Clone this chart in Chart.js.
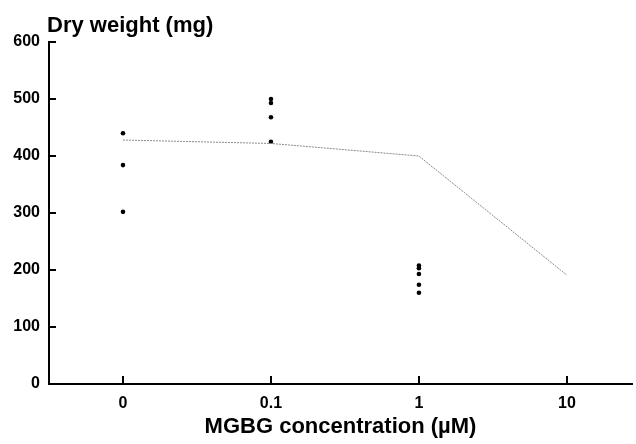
<!DOCTYPE html>
<html>
<head>
<meta charset="utf-8">
<script src="https://cdn.jsdelivr.net/npm/chart.js@4"></script>
<style>
  html, body { margin: 0; padding: 0; background: #fff; }
  #wrap { width: 636px; height: 444px; }
</style>
</head>
<body>
<div id="wrap"><canvas id="chart"></canvas></div>
<script>
// concentrations on the x axis (categories, evenly spaced)
const concLabels = ['0', '0.1', '1', '10'];
// line through the means
const meanWeight = [428, 422, 400, 191];
// individual plants
const dots0 = [440, 384, 302];
const dots01 = [500, 493, 468, 425];
const dots1 = [208, 203, 193, 174, 160];
const yTicks = [0, 100, 200, 300, 400, 500, 600];

function toPoints(idx, vals) {
    let arr = [];
    for (let i = 0; i < vals.length; i++) {
        arr.push({x: idx, y: vals[i]});
    }
    return arr;
}

const fontFam = '"Liberation Sans", Arial, sans-serif';

// inward tick marks and the y title above the axis
const extras = {
    id: 'extras',
    afterDraw(chart) {
        const ctx = chart.ctx;
        const xs = chart.scales.x, ys = chart.scales.y;
        const area = chart.chartArea;
        ctx.save();
        ctx.fillStyle = '#000';
        for (let i = 0; i < concLabels.length; i++) {
            const px = Math.round(xs.getPixelForValue(i));
            ctx.fillRect(px - 1, area.bottom - 8, 2, 9);
        }
        for (let i = 0; i < yTicks.length; i++) {
            const py = Math.round(ys.getPixelForValue(yTicks[i]));
            ctx.fillRect(area.left - 1, py - 1, 8, 2);
        }
        ctx.font = 'bold 22px ' + fontFam;
        ctx.textAlign = 'left';
        ctx.textBaseline = 'alphabetic';
        ctx.fillText('Dry weight (mg)', area.left - 2, 32);
        ctx.restore();
    }
};

new Chart(document.getElementById('chart'), {
    type: 'scatter',
    data: {
        datasets: [{
            type: 'line',
            data: meanWeight.map((v, i) => ({x: i, y: v})),
            borderColor: '#8a8a8a',
            borderWidth: 1,
            borderDash: [2, 1],
            pointRadius: 0,
            fill: false
        }, {
            data: toPoints(0, dots0).concat(toPoints(1, dots01), toPoints(2, dots1)),
            backgroundColor: '#000',
            borderColor: '#000',
            pointRadius: 2.3,
            pointBorderWidth: 0
        }]
    },
    plugins: [extras],
    options: {
        responsive: true,
        maintainAspectRatio: false,
        animation: false,
        layout: { padding: { top: 42, right: 0, left: 0, bottom: 0 } },
        plugins: { legend: { display: false }, tooltip: { enabled: false } },
        scales: {
            x: {
                type: 'linear',
                min: -0.5,
                max: 3.44,
                afterFit(scale) { scale.height = 60; },
                afterBuildTicks(scale) {
                    scale.ticks = concLabels.map((l, i) => ({value: i}));
                },
                grid: { display: false, drawTicks: false },
                border: { display: true, color: '#000', width: 2 },
                ticks: {
                    color: '#000',
                    padding: 10,
                    font: { family: fontFam, size: 16, weight: 'bold' },
                    callback: (v) => concLabels[v]
                },
                title: {
                    display: true,
                    text: 'MGBG concentration (µM)',
                    color: '#000',
                    padding: { top: 3 },
                    font: { family: fontFam, size: 22, weight: 'bold' }
                }
            },
            y: {
                min: 0,
                max: 600,
                afterFit(scale) { scale.width = 49; },
                afterBuildTicks(scale) {
                    scale.ticks = yTicks.map(v => ({value: v}));
                },
                grid: { display: false, drawTicks: false },
                border: { display: true, color: '#000', width: 2 },
                ticks: {
                    color: '#000',
                    padding: 9,
                    font: { family: fontFam, size: 16, weight: 'bold' }
                }
            }
        }
    }
});
</script>
</body>
</html>
